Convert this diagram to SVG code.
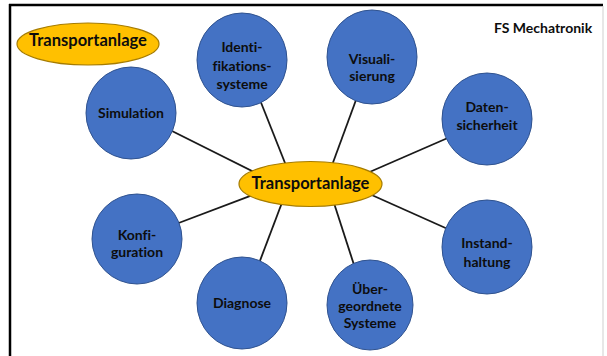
<svg xmlns="http://www.w3.org/2000/svg" width="607" height="356" viewBox="0 0 607 356">
  <style>
    .topic { fill: #4472C4; stroke: #2F528F; stroke-width: 1; }
    .hub { fill: #FFC000; stroke: #A67C00; stroke-width: 1.2; }
    .lbl { font-family: Lato, "Liberation Sans", sans-serif; font-weight: 700; font-size: 14px; fill: #0d0d0d; text-anchor: middle; font-variant-ligatures: none; font-feature-settings: "liga" 0; }
    .big { font-size: 16.5px; }
    .spoke { stroke: #1a1a1a; stroke-width: 1.8; fill: none; }
  </style>

  <rect width="607" height="356" fill="#ffffff"/>

  <!-- frame -->
  <line x1="9" y1="5" x2="603" y2="5" stroke="#000" stroke-width="2.5"/>
  <line x1="10" y1="4" x2="10" y2="356" stroke="#000" stroke-width="2.5"/>
  <line x1="603" y1="6" x2="603" y2="356" stroke="#cfcfcf" stroke-width="1"/>

  <text class="lbl" x="543" y="33">FS Mechatronik</text>

  <g id="title">
    <ellipse class="hub" cx="88" cy="44" rx="71" ry="21"/>
    <text class="lbl big" x="88" y="46">Transportanlage</text>
  </g>

  <!-- spokes from the hub to each topic -->
  <g id="connectors">
    <line class="spoke" x1="170" y1="130" x2="258" y2="174"/>
    <line class="spoke" x1="260" y1="100" x2="287" y2="168"/>
    <line class="spoke" x1="356" y1="100" x2="331" y2="168"/>
    <line class="spoke" x1="450" y1="137" x2="365" y2="174"/>
    <line class="spoke" x1="450" y1="230" x2="365" y2="192"/>
    <line class="spoke" x1="355" y1="268" x2="333" y2="200"/>
    <line class="spoke" x1="258" y1="266" x2="283" y2="200"/>
    <line class="spoke" x1="176" y1="224" x2="258" y2="193"/>
  </g>

  <g id="hub">
    <ellipse class="hub" cx="310.5" cy="184" rx="71.5" ry="22.5"/>
    <text class="lbl big" x="310.5" y="189">Transportanlage</text>
  </g>

  <g id="simulation">
    <ellipse class="topic" cx="131" cy="113" rx="45" ry="46"/>
    <text class="lbl" x="131" y="118">Simulation</text>
  </g>

  <g id="identifikationssysteme">
    <ellipse class="topic" cx="242" cy="60" rx="45" ry="47"/>
    <text class="lbl" x="242" y="52">Identi-</text>
    <text class="lbl" x="242" y="71">fikations-</text>
    <text class="lbl" x="242" y="89">systeme</text>
  </g>

  <g id="visualisierung">
    <ellipse class="topic" cx="372" cy="57" rx="45" ry="47"/>
    <text class="lbl" x="372" y="64">Visuali-</text>
    <text class="lbl" x="372" y="81">sierung</text>
  </g>

  <g id="datensicherheit">
    <ellipse class="topic" cx="487" cy="119" rx="45" ry="46"/>
    <text class="lbl" x="487" y="112">Daten-</text>
    <text class="lbl" x="487" y="130">sicherheit</text>
  </g>

  <g id="instandhaltung">
    <ellipse class="topic" cx="487" cy="247" rx="45" ry="47"/>
    <text class="lbl" x="487" y="248">Instand-</text>
    <text class="lbl" x="487" y="267">haltung</text>
  </g>

  <g id="uebergeordnete-systeme">
    <ellipse class="topic" cx="370" cy="305" rx="43" ry="45"/>
    <text class="lbl" x="370" y="294">Über-</text>
    <text class="lbl" x="370" y="311">geordnete</text>
    <text class="lbl" x="370" y="328">Systeme</text>
  </g>

  <g id="diagnose">
    <ellipse class="topic" cx="242" cy="303" rx="45" ry="46"/>
    <text class="lbl" x="242" y="308">Diagnose</text>
  </g>

  <g id="konfiguration">
    <ellipse class="topic" cx="137" cy="239" rx="45" ry="45"/>
    <text class="lbl" x="137" y="240">Konfi-</text>
    <text class="lbl" x="137" y="257">guration</text>
  </g>
</svg>
